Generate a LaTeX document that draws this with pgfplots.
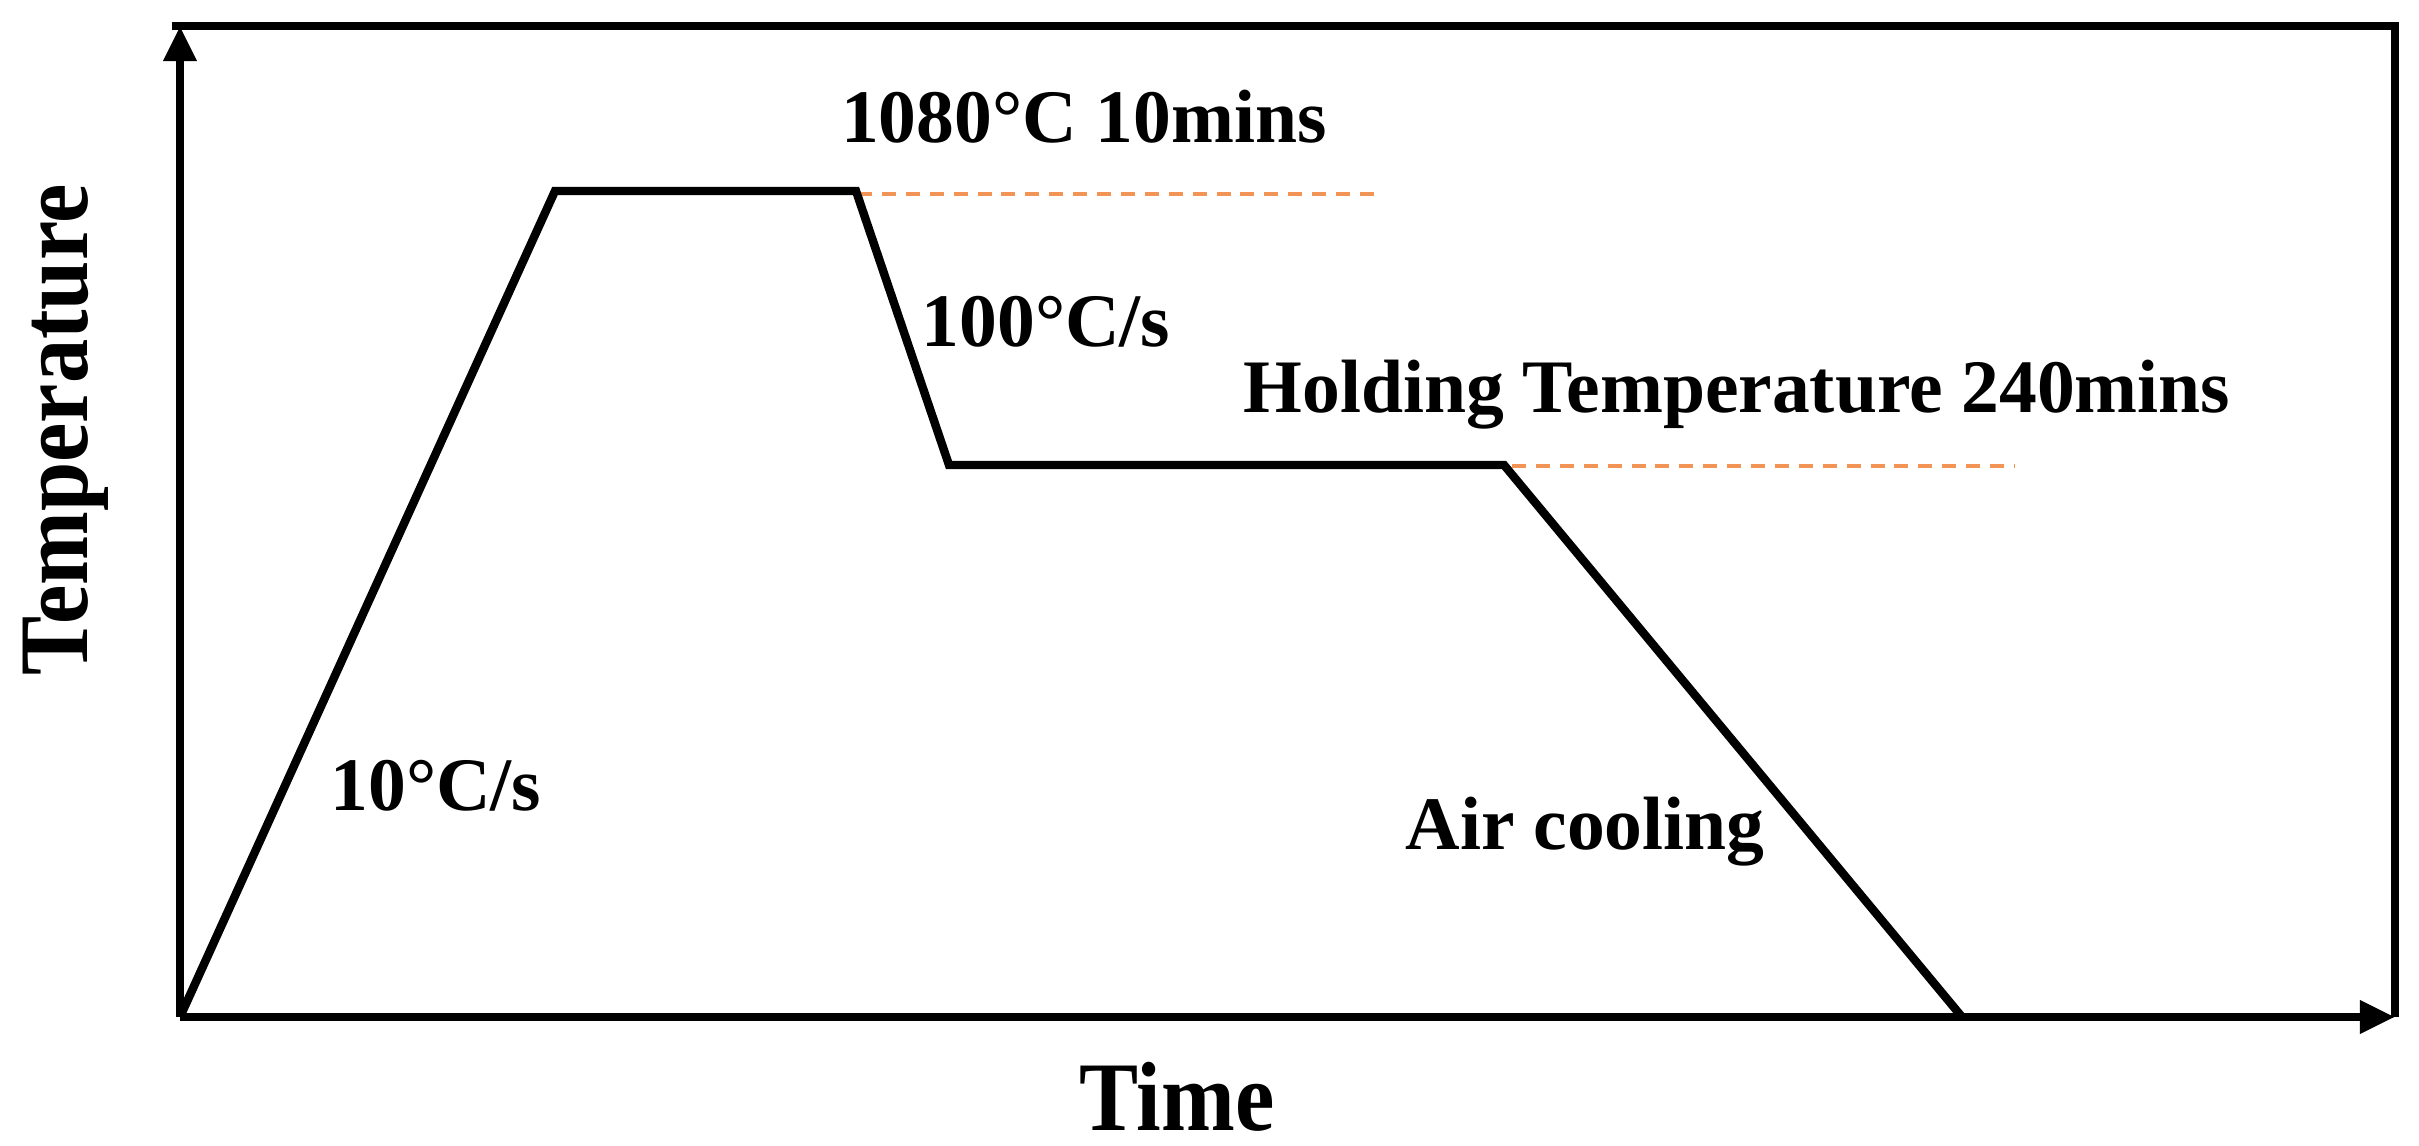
\documentclass[border=0pt]{standalone}
\usepackage{pgfplots}
\pgfplotsset{compat=1.18}
\usepackage{fontspec}
\setmainfont{Liberation Serif}
\usetikzlibrary{arrows.meta}
\definecolor{dashorange}{RGB}{242,148,85}
\begin{document}
\begin{tikzpicture}
\begin{axis}[
  scale only axis,
  width=22.15cm, height=9.91cm,
  xmin=180, xmax=2395, ymin=129, ymax=1120,
  axis x line=bottom, axis y line=left,
  xtick=\empty, ytick=\empty,
  x axis line style={line width=2.3pt, -{Triangle[length=10pt,width=9pt]}},
  y axis line style={line width=2.3pt, -{Triangle[length=10pt,width=9pt]}},
  clip=false,
]
% box top and right
\draw[line width=2.3pt, line join=miter] (axis cs:172,1120) -- (axis cs:2395,1120) -- (axis cs:2395,129);
% dashed reference lines
\addplot[dashorange, line width=1.3pt, dash pattern=on 4pt off 2.8pt] coordinates {(858,952) (1383,952)};
\addplot[dashorange, line width=1.3pt, dash pattern=on 4pt off 2.8pt] coordinates {(1512,680) (2014,680)};
% heat treatment curve
\addplot[black, line width=2.4pt, line join=miter] coordinates {
  (180,129) (555,955) (856,955) (949,681) (1504,681) (1962,129)
};
% labels
\node[anchor=base, font=\fontsize{21.5}{24}\selectfont\bfseries] at (axis cs:1084,1003) {1080°C 10mins};
\node[anchor=base, font=\fontsize{21.5}{24}\selectfont\bfseries] at (axis cs:1046,799) {100°C/s};
\node[anchor=base, font=\fontsize{21.5}{24}\selectfont\bfseries] at (axis cs:1737,733) {Holding Temperature 240mins};
\node[anchor=base, font=\fontsize{21.5}{24}\selectfont\bfseries] at (axis cs:436,335) {10°C/s};
\node[anchor=base, font=\fontsize{21.5}{24}\selectfont\bfseries] at (axis cs:1585,296) {Air cooling};
\node[anchor=base, font=\fontsize{28}{32}\selectfont\bfseries] at (axis cs:1177,16) {\scalebox{0.9}[1]{Time}};
\node[anchor=base, rotate=90, font=\fontsize{28}{32}\selectfont\bfseries] at (axis cs:88,716) {\scalebox{0.9}[1]{Temperature}};
\coordinate (bl) at (axis cs:0,0);
\coordinate (tr) at (axis cs:2419,1146);
\end{axis}
\pgfresetboundingbox
\path (bl) rectangle (tr);
\end{tikzpicture}
\end{document}
